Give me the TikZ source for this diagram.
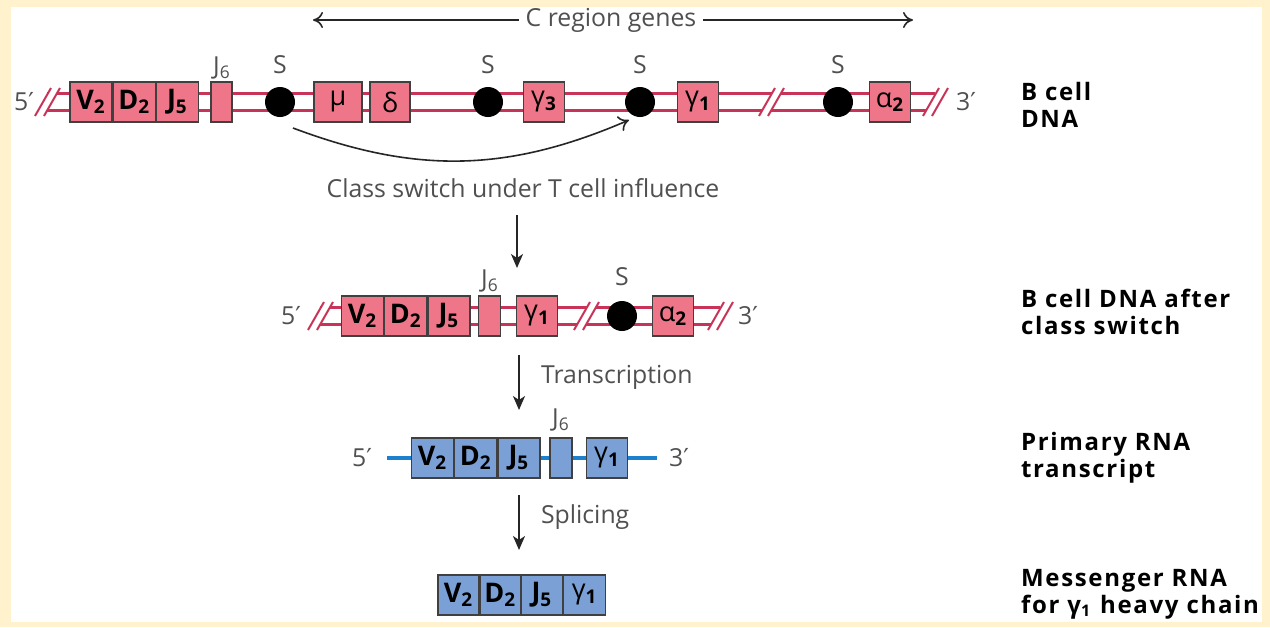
\documentclass[tikz,border=0pt]{standalone}
\usepackage{fontspec}
\setmainfont{Open Sans}
\newfontfamily\primefont{DejaVu Sans}
\newfontfamily\sidefont[LetterSpace=7]{Open Sans}
\usetikzlibrary{arrows.meta,positioning}

\definecolor{framecol}{RGB}{255,242,204}
\definecolor{genepink}{RGB}{238,118,136}
\definecolor{dnared}{RGB}{200,52,88}
\definecolor{geneblue}{RGB}{122,160,214}
\definecolor{rnablue}{RGB}{28,128,204}
\definecolor{labgray}{RGB}{80,80,80}

\newcommand{\prm}{{\primefont\char"2032}}
\newcommand{\seg}[2]{\textbf{#1\textsubscript{#2}}}
\newcommand{\cseg}[2]{#1\textsubscript{\textbf{#2}}}

\tikzset{
  gene/.style={draw=black!75, line width=0.6pt, fill=genepink, minimum height=20pt,
    minimum width=21pt, inner sep=0pt, font=\fontsize{13.5}{13.5}\selectfont},
  rgene/.style={gene, fill=geneblue},
  sdot/.style={circle, fill=black, minimum size=15pt, inner sep=0pt},
  dna/.style={draw=dnared, line width=1.4pt, double=white, double distance=7pt},
  rna/.style={draw=rnablue, line width=1.6pt},
  brkline/.style={draw=dnared, line width=1pt},
  tag/.style={text=labgray, font=\fontsize{12.4}{14}\selectfont},
  side/.style={anchor=west, align=left, font=\sidefont\bfseries\fontsize{12}{13.5}\selectfont},
  flow/.style={-{Stealth[length=7pt,width=6pt,inset=2pt]}, line width=0.9pt, black!85},
  span/.style={-{To[length=5pt,width=8pt]}, line width=0.8pt, black!85},
  brk/.pic={
    \fill[white] (-11,12) -- (3,-12) -- (12,-12) -- (-2,12) -- cycle;
    \draw[brkline] (-12,14) -- (4,-14);
    \draw[brkline] (-3,14) -- (13,-14);
  }
}

\begin{document}
\begin{tikzpicture}[x=0.5pt, y=-0.5pt]
  \useasboundingbox (0,0) rectangle (1270,627);
  \fill[framecol] (0,0) rectangle (1270,627);
  \fill[white] (11,7) rectangle (1262,622);

  % C region span
  \node[tag] (cgenes) at (611,20) {C region genes};
  \coordinate (cl) at (313,20);
  \coordinate (cr) at (913,20);
  \draw[span] (cgenes) -- (cl);
  \draw[span] (cgenes) -- (cr);

  % B cell DNA
  \coordinate (r1a) at (47,102);
  \coordinate (r1b) at (771,102);
  \coordinate (r1c) at (935,102);
  \draw[dna] (r1a) -- (r1b) -- (r1c);
  \pic at (r1a) {brk};
  \pic at (r1b) {brk};
  \pic at (r1c) {brk};
  \node[tag] (five1) at (24,102) {5\prm};
  \node[tag] (three1) at (966,102) {3\prm};
  \node[gene] (v2a) at (91,102) {\seg{V}{2}};
  \node[gene, right=0pt of v2a] (d2a) {\seg{D}{2}};
  \node[gene, right=0pt of d2a] (j5a) {\seg{J}{5}};
  \node[gene, minimum width=10.5pt] (j6a) at (221.5,102) {};
  \node[tag] (j6alab) at (222,68) {J\textsubscript{6}};
  \node[sdot] (s1a) at (280,102) {};
  \node[tag] at (280,65) {S};
  \node[gene, minimum width=24pt] (mua) at (338,102) {μ};
  \node[gene, minimum width=20pt] (dea) at (390,102) {δ};
  \node[sdot] (s2a) at (488,102) {};
  \node[tag] at (488,65) {S};
  \node[gene, minimum width=20.5pt] (g3a) at (544,102) {\cseg{γ}{3}};
  \node[sdot] (s3a) at (640,102) {};
  \node[tag] at (640,65) {S};
  \node[gene, minimum width=20.5pt] (g1a) at (698,102) {\cseg{γ}{1}};
  \node[sdot] (s4a) at (838,102) {};
  \node[tag] at (838,65) {S};
  \node[gene, minimum width=20.5pt] (a2a) at (890,102) {\cseg{α}{2}};

  % class switch
  \coordinate (csa) at ([shift={(13,26)}]s1a.center);
  \coordinate (csb) at ([shift={(-11,18)}]s3a.center);
  \draw[span] (csa) to[bend right=22] (csb);
  \node[tag] (cslab) at (523,188) {Class switch under T cell influence};
  \coordinate (ar1a) at (517,215);
  \coordinate (ar1b) at (517,268);
  \draw[flow] (ar1a) -- (ar1b);

  % after class switch
  \coordinate (r2a) at (320,316);
  \coordinate (r2b) at (586,316);
  \coordinate (r2c) at (720,316);
  \draw[dna] (r2a) -- (r2b) -- (r2c);
  \pic at (r2a) {brk};
  \pic at (r2b) {brk};
  \pic at (r2c) {brk};
  \node[tag] (five2) at (291,316) {5\prm};
  \node[tag] (three2) at (748,316) {3\prm};
  \node[gene] (v2b) at (362.5,316) {\seg{V}{2}};
  \node[gene, right=0pt of v2b] (d2b) {\seg{D}{2}};
  \node[gene, right=0pt of d2b] (j5b) {\seg{J}{5}};
  \node[gene, minimum width=11pt] (j6b) at (489.5,316) {};
  \node[tag] (j6blab) at (490,281) {J\textsubscript{6}};
  \node[gene, minimum width=20.5pt] (g1b) at (537,316) {\cseg{γ}{1}};
  \node[sdot] (s1b) at (622,316) {};
  \node[tag] at (622,277) {S};
  \node[gene, minimum width=20.5pt] (a2b) at (673,316) {\cseg{α}{2}};

  \coordinate (ar2a) at (519,355);
  \coordinate (ar2b) at (519,410);
  \draw[flow] (ar2a) -- (ar2b);
  \node[tag, anchor=west] (trlab) at (534,377) {Transcription};

  % primary transcript
  \coordinate (r3a) at (387,458);
  \coordinate (r3b) at (657,458);
  \draw[rna] (r3a) -- (r3b);
  \node[tag] (five3) at (362,458) {5\prm};
  \node[tag] (three3) at (679,458) {3\prm};
  \node[rgene] (v2c) at (432.5,458) {\seg{V}{2}};
  \node[rgene, right=0pt of v2c] (d2c) {\seg{D}{2}};
  \node[rgene, right=0pt of d2c] (j5c) {\seg{J}{5}};
  \node[rgene, minimum width=11pt] (j6c) at (561,458) {};
  \node[tag] (j6clab) at (561,420) {J\textsubscript{6}};
  \node[rgene, minimum width=20.5pt] (g1c) at (607,458) {\cseg{γ}{1}};

  \coordinate (ar3a) at (519,495);
  \coordinate (ar3b) at (519,550);
  \draw[flow] (ar3a) -- (ar3b);
  \node[tag, anchor=west] (splab) at (534,517) {Splicing};

  % messenger RNA
  \node[rgene, minimum width=20.5pt] (v2d) at (458.5,595) {\seg{V}{2}};
  \node[rgene, minimum width=20pt, right=0pt of v2d] (d2d) {\seg{D}{2}};
  \node[rgene, minimum width=20.5pt, right=0pt of d2d] (j5d) {\seg{J}{5}};
  \node[rgene, minimum width=21pt, right=0pt of j5d] (g1d) {\cseg{γ}{1}};

  % side labels
  \node[side] (lab1) at (1014,105) {B cell\\DNA};
  \node[side] (lab2) at (1014,312) {B cell DNA after\\class switch};
  \node[side] (lab3) at (1014,458) {Primary RNA\\transcript};
  \node[side] (lab4) at (1014,594) {Messenger RNA\\for \cseg{γ}{1} heavy chain};
\end{tikzpicture}
\end{document}
